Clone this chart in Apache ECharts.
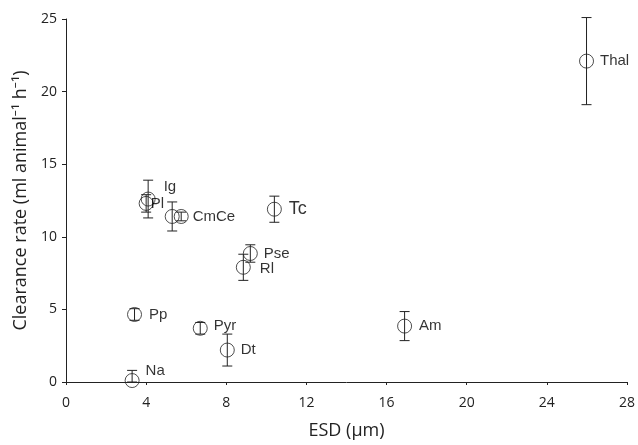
<!DOCTYPE html>
<html><head><meta charset="utf-8">
<script src="https://cdn.jsdelivr.net/npm/echarts@6/dist/echarts.min.js"></script>
<style>html,body{margin:0;padding:0;background:#fff}#c{width:638px;height:445px}</style>
</head><body><div id="c"></div>
<script>
const names = ['Thal','Tc','Ig','Pl','Cm','Ce','Pse','Rl','Pp','Pyr','Dt','Na','Am'];
const labels = ['Thal','Tc','Ig','Pl','','CmCe','Pse','Rl','Pp','Pyr','Dt','Na','Am'];
const esd = [25.98, 10.4, 4.1, 4.0, 5.3, 5.75, 9.2, 8.85, 3.42, 6.7, 8.05, 3.3, 16.9];
const clearance = [22.1, 11.9, 12.6, 12.3, 11.4, 11.4, 8.85, 7.9, 4.65, 3.7, 2.2, 0.1, 3.85];
const errors = [3.0, 0.9, 1.3, 0.6, 1.0, 0.3, 0.6, 0.9, 0.4, 0.4, 1.1, 0.7, 1.0];
const xTicks = [0,4,8,12,16,20,24,28];
const yTicks = [0,5,10,15,20,25];

const labelPos = {
  Thal:[1,0], Tc:[2,0], Ig:[3,-12], Pl:[-8,0], Ce:[-1,0], Pse:[1,0], Rl:[4,2],
  Pp:[2,0], Pyr:[1,-2], Dt:[1,0], Na:[1,-10], Am:[2,0]
};

const pts = names.map((n,i)=>({
  value:[esd[i], clearance[i], errors[i]],
  name:n,
  label:{
    show: labels[i] !== '',
    formatter: labels[i],
    position:'right',
    distance:5,
    offset: labelPos[n] || [0,0],
    fontSize: n==='Tc'?18:15,
    color:'#000',
    fontFamily:'Liberation Sans, Arial, sans-serif'
  }
}));

const chart = echarts.init(document.getElementById('c'), null, {renderer:'canvas'});
chart.setOption({
  animation:false,
  backgroundColor:'#fff',
  grid:{left:66,right:11,top:19,bottom:62,containLabel:false},
  xAxis:{
    type:'value', min:0, max:28, interval:4,
    name:'ESD (µm)', nameLocation:'middle', nameGap:40,
    nameTextStyle:{fontSize:18,color:'#222',fontFamily:'Open Sans, Noto Sans, sans-serif'},
    axisLine:{show:true,onZero:false,lineStyle:{color:'#222',width:1}},
    axisTick:{show:true,inside:false,length:3,lineStyle:{color:'#222'}},
    axisLabel:{fontSize:14,color:'#222',margin:14,fontFamily:'Open Sans, Noto Sans, sans-serif'},
    splitLine:{show:false}
  },
  yAxis:{
    type:'value', min:0, max:25, interval:5,
    name:'Clearance rate (ml animal⁻¹ h⁻¹)', nameLocation:'middle', nameGap:36, nameRotate:90,
    nameTextStyle:{fontSize:18,color:'#222',fontFamily:'Open Sans, Noto Sans, sans-serif'},
    axisLine:{show:true,onZero:false,lineStyle:{color:'#222',width:1}},
    axisTick:{show:true,inside:false,length:4,lineStyle:{color:'#222'}},
    axisLabel:{fontSize:14,color:'#222',margin:9,fontFamily:'Open Sans, Noto Sans, sans-serif'},
    splitLine:{show:false}
  },
  series:[
    {
      type:'custom',
      data: names.map((n,i)=>[esd[i], clearance[i], errors[i]]),
      renderItem:function(params, api){
        const x = api.value(0), y = api.value(1), e = api.value(2);
        const top = api.coord([x, y+e]);
        const bot = api.coord([x, Math.max(0, y-e)]);
        const hw = 5;
        const style = {stroke:'#222', lineWidth:1, fill:null};
        return {type:'group', children:[
          {type:'line', shape:{x1:top[0],y1:top[1],x2:bot[0],y2:bot[1]}, style},
          {type:'line', shape:{x1:top[0]-hw,y1:top[1],x2:top[0]+hw,y2:top[1]}, style},
          {type:'line', shape:{x1:bot[0]-hw,y1:bot[1],x2:bot[0]+hw,y2:bot[1]}, style}
        ]};
      },
      z:1
    },
    {
      type:'scatter',
      data: pts,
      symbol:'circle',
      symbolSize:14,
      itemStyle:{color:'rgba(255,255,255,0)',borderColor:'#222',borderWidth:1},
      z:2
    }
  ]
});
</script></body></html>
